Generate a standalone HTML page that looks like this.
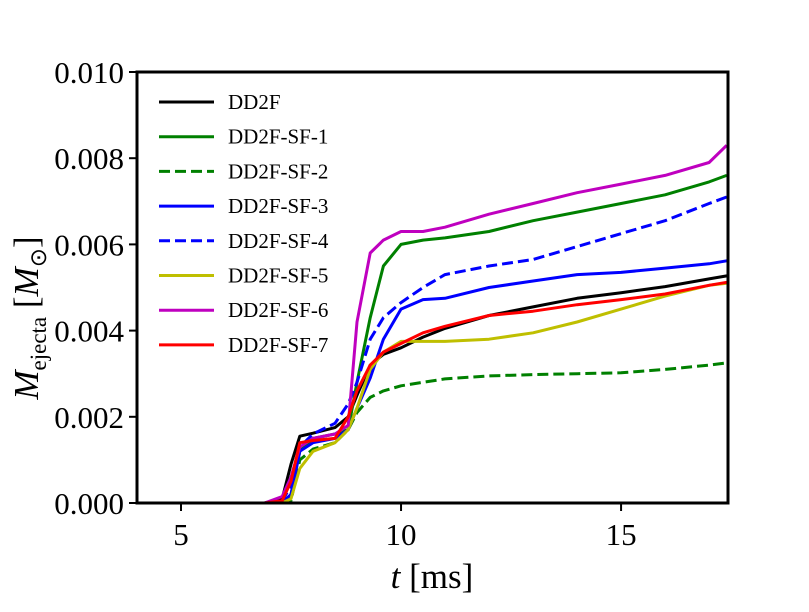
<!DOCTYPE html>
<html><head><meta charset="utf-8"><style>
body{margin:0;background:#fff;}
svg text{font-family:"Liberation Serif",serif;fill:#000;}
</style></head><body>
<svg id="chart" width="809" height="607">
<rect x="0" y="0" width="809" height="607" fill="#fff"/>
<g id="plot"></g>
</svg>
<script>
const times = [4,6.9,7.3,7.5,7.7,8.0,8.5,8.8,9.0,9.3,9.6,10,10.5,11,12,13,14,15,16,17,17.4];
const seriesNames = ["DD2F","DD2F-SF-1","DD2F-SF-2","DD2F-SF-3","DD2F-SF-4","DD2F-SF-5","DD2F-SF-6","DD2F-SF-7"];
const dd2f = [0,0,0.1,0.9,1.55,1.62,1.75,2.0,2.5,3.2,3.45,3.6,3.85,4.05,4.35,4.55,4.75,4.88,5.02,5.2,5.27];
const sf1 = [0,0,0,0.2,1.2,1.5,1.6,1.7,2.8,4.3,5.5,6.0,6.1,6.15,6.3,6.55,6.75,6.95,7.15,7.45,7.6];
const sf2 = [0,0,0,0.05,1.0,1.25,1.4,1.7,2.1,2.45,2.6,2.72,2.8,2.88,2.95,2.98,3.0,3.02,3.1,3.2,3.25];
const sf3 = [0,0,0,0.2,1.2,1.4,1.5,1.7,2.2,2.9,3.8,4.5,4.72,4.75,5.0,5.15,5.3,5.35,5.45,5.55,5.62];
const sf4 = [0,0,0.05,0.4,1.3,1.6,1.85,2.3,2.8,3.8,4.3,4.65,5.0,5.3,5.5,5.65,5.95,6.25,6.55,6.95,7.1];
const sf5 = [0,0,0,0.1,0.8,1.2,1.4,1.7,2.2,3.1,3.5,3.75,3.75,3.75,3.8,3.95,4.2,4.5,4.8,5.05,5.1];
const sf6 = [0,0,0.15,0.6,1.3,1.5,1.6,1.8,4.2,5.8,6.1,6.3,6.3,6.4,6.7,6.95,7.2,7.4,7.6,7.9,8.3];
const sf7 = [0,0,0.05,0.5,1.4,1.45,1.5,2.0,2.6,3.2,3.5,3.7,3.95,4.1,4.35,4.45,4.6,4.72,4.85,5.05,5.12];
const xTicks = [5,10,15];
const yTicks = [0,0.002,0.004,0.006,0.008,0.010];
const yTickLabels = ["0.000","0.002","0.004","0.006","0.008","0.010"];

const allSeries=[dd2f,sf1,sf2,sf3,sf4,sf5,sf6,sf7];
const colors=["#000","#008000","#008000","#0000ff","#0000ff","#bfbf00","#bf00bf","#ff0000"];
const dashed=[false,false,true,false,true,false,false,false];
const L=137,R=728,T=72,B=503,x0=4,x1=17.43;
const xs=t=>L+(t-x0)/(x1-x0)*(R-L);
const ys=v=>B-v/0.010*(B-T);
const NS="http://www.w3.org/2000/svg";
const g=document.getElementById('plot');
function mk(tag,attrs,parent){const e=document.createElementNS(NS,tag);for(const k in attrs)e.setAttribute(k,attrs[k]);(parent||g).appendChild(e);return e;}
const defs=mk('defs',{});const cp=mk('clipPath',{id:'clip'},defs);mk('rect',{x:L,y:T,width:R-L,height:B-T},cp);
const lines=mk('g',{'clip-path':'url(#clip)'});
allSeries.forEach((s,i)=>{
  const d=s.map((v,j)=>(j?'L':'M')+xs(times[j]).toFixed(1)+','+ys(v/1000).toFixed(1)).join('');
  const p=mk('path',{d:d,fill:'none',stroke:colors[i],'stroke-width':3,'stroke-linejoin':'round'},lines);
  if(dashed[i])p.setAttribute('stroke-dasharray','11,5');
  
  
});
const frame=mk('rect',{x:L,y:T,width:R-L,height:B-T,fill:'none',stroke:'#000','stroke-width':3});


xTicks.forEach(t=>{
  mk('line',{x1:xs(t),x2:xs(t),y1:B,y2:B+8,stroke:'#000','stroke-width':2});
  const tx=mk('text',{x:xs(t),y:B+42,'font-size':31,'text-anchor':'middle'});tx.textContent=t;
  
  
});
yTicks.forEach((v,i)=>{
  mk('line',{x1:L-8,x2:L,y1:ys(v),y2:ys(v),stroke:'#000','stroke-width':2});
  const tx=mk('text',{x:L-13,y:ys(v)+11,'font-size':31,'text-anchor':'end'});tx.textContent=yTickLabels[i];
  
  
});
const xt=mk('text',{x:432,y:588,'font-size':35,'text-anchor':'middle'});
xt.innerHTML='<tspan font-style="italic">t</tspan> [ms]';


const yt=mk('text',{x:0,y:0,'font-size':35,'text-anchor':'middle',transform:'translate(38,318) rotate(-90)'});
yt.innerHTML='<tspan font-style="italic">M</tspan><tspan font-size="23" dy="8">ejecta</tspan><tspan dy="-8"> [</tspan><tspan font-style="italic">M</tspan><tspan font-size="23" dy="8">⊙</tspan><tspan dy="-8">]</tspan>';


seriesNames.forEach((n,i)=>{
  const y=102+i*34.7;
  const lg=mk('g',{});
  
  
  const ln=mk('line',{x1:159,x2:214,y1:y,y2:y,stroke:colors[i],'stroke-width':3},lg);
  if(dashed[i])ln.setAttribute('stroke-dasharray','11,5');
  const tx=mk('text',{x:228,y:y+7,'font-size':21},lg);tx.textContent=n;
});
</script>
</body></html>
